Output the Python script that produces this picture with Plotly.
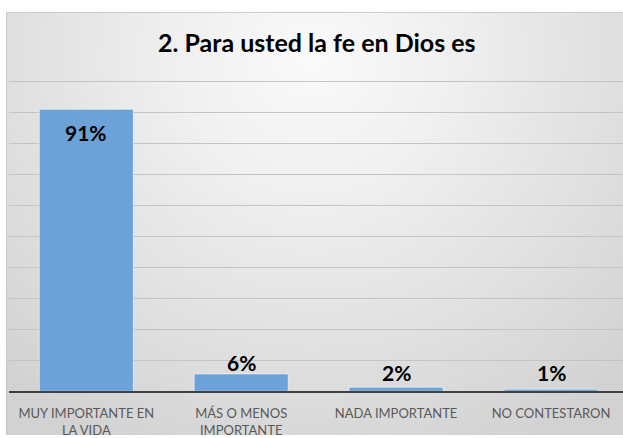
import base64
import plotly.graph_objects as go

# ---- data ----
categories = ["MUY IMPORTANTE EN<br>LA VIDA", "MÁS O MENOS<br>IMPORTANTE", "NADA IMPORTANTE", "NO CONTESTARON"]
values = [91.0, 5.6, 1.3, 0.7]
value_labels = ["91%", "6%", "2%", "1%"]
title_text = "2. Para usted la fe en Dios es"

# ---- style ----
W, H = 623, 438
FONT = "Lato"
BAR_COLOR = "#6CA2D7"
label_shift = [-23, 11, 15, 17]

plot_left_px = 8.85
cat_step_px = 154.9
base_px = 394.0
unit_px = 3.12
y_top = 101.0

x_dom = [plot_left_px / W, 1.0]
y_dom = [(H - base_px) / H, (H - (base_px - y_top * unit_px)) / H]
x_rng = [-0.5, -0.5 + (W - plot_left_px) / cat_step_px]

svg = (
    f"<svg xmlns='http://www.w3.org/2000/svg' width='{W}' height='{H}'>"
    "<defs><radialGradient id='g' gradientUnits='userSpaceOnUse' cx='313' cy='60' r='440'>"
    "<stop offset='0' stop-color='#FAFAFA'/><stop offset='0.3' stop-color='#F0F0F0'/>"
    "<stop offset='1' stop-color='#D2D2D2'/></radialGradient></defs>"
    "<rect x='6.5' y='12.5' width='640' height='440' fill='url(#g)' stroke='#C9C9C9' stroke-width='1'/>"
    "</svg>"
)
bg_uri = "data:image/svg+xml;base64," + base64.b64encode(svg.encode()).decode()

fig = go.Figure()
fig.add_trace(go.Bar(
    x=categories, y=values,
    marker=dict(color=BAR_COLOR, line=dict(color="rgba(255,255,255,0.55)", width=1)),
    width=0.607, hoverinfo="skip",
))

annotations = []
for i, (c, v, t) in enumerate(zip(categories, values, value_labels)):
    annotations.append(dict(
        x=c, y=v, xref="x", yref="y", text=f"<b>{t}</b>", showarrow=False,
        yanchor="middle", yshift=label_shift[i],
        font=dict(family=FONT, size=21, color="#000000"),
    ))
annotations.append(dict(
    x=317 / W, y=1 - 42 / H, xref="paper", yref="paper", text=f"<b>{title_text}</b>",
    showarrow=False, xanchor="center", yanchor="middle",
    font=dict(family=FONT, size=25, color="#000000"),
))

fig.update_layout(
    width=W, height=H,
    margin=dict(l=0, r=0, t=0, b=0),
    paper_bgcolor="white", plot_bgcolor="rgba(0,0,0,0)",
    showlegend=False,
    annotations=annotations,
    images=[dict(source=bg_uri, xref="paper", yref="paper", x=0, y=1, sizex=1, sizey=1,
                 sizing="stretch", xanchor="left", yanchor="top", layer="below")],
    xaxis=dict(domain=x_dom, range=x_rng, showline=True, linecolor="#404040", linewidth=2,
               ticks="", showgrid=False, zeroline=False, fixedrange=True,
               ticklabelstandoff=9,
               tickfont=dict(family=FONT, size=13, color="#595959")),
    yaxis=dict(domain=y_dom, range=[0, y_top], showticklabels=False, showgrid=True,
               gridcolor="#C4C4C4", gridwidth=1, dtick=10, tick0=0, zeroline=False,
               showline=False, fixedrange=True),
)

fig.write_html(
    "out.html",
    config={"displayModeBar": False, "staticPlot": True},
    post_script="document.body.style.margin='0px';document.body.style.overflow='hidden';",
)
